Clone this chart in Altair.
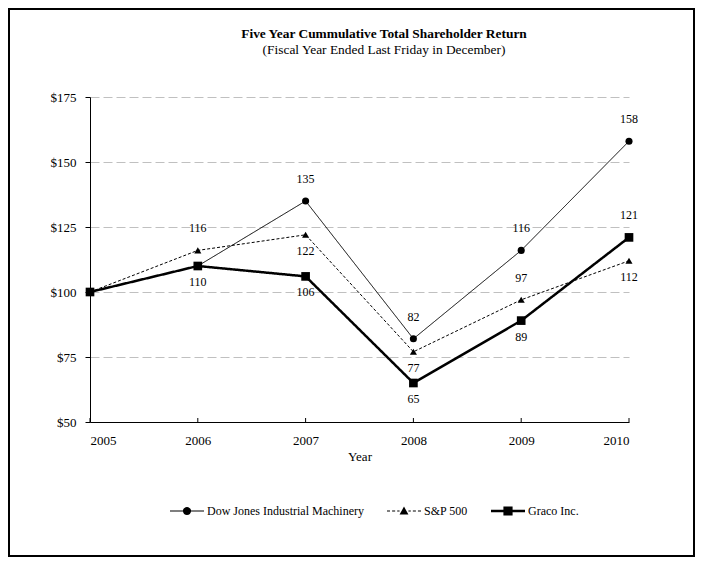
import altair as alt
import pandas as pd

years = [2005, 2006, 2007, 2008, 2009, 2010]
series_names = ["Dow Jones Industrial Machinery", "S&P 500", "Graco Inc."]
dow_jones = [100, 110, 135, 82, 116, 158]
sp500 = [100, 116, 122, 77, 97, 112]
graco = [100, 110, 106, 65, 89, 121]
# where each value label sits relative to its point ("" = no label)
dj_label_pos = ["", "", "above", "above", "above", "above"]
sp_label_pos = ["", "above", "below", "below", "above", "below"]
gr_label_pos = ["", "below", "below", "below", "below", "above"]
y_ticks = [50, 75, 100, 125, 150, 175]
title_text = "Five Year Cummulative Total Shareholder Return"
subtitle_text = "(Fiscal Year Ended Last Friday in December)"

rows = []
for name, vals, pos in zip(series_names, [dow_jones, sp500, graco],
                           [dj_label_pos, sp_label_pos, gr_label_pos]):
    for yr, v, p in zip(years, vals, pos):
        rows.append({"series": name, "year": yr, "value": v, "pos": p})
df = pd.DataFrame(rows)

FONT = "Liberation Serif"
W, H = 539, 325

x_enc = alt.X("year:Q", scale=alt.Scale(domain=[2005, 2010], nice=False, zero=False),
              axis=alt.Axis(values=years, format="d", tickSize=0, labelPadding=12,
                            title="Year", titlePadding=3, grid=False,
                            domainColor="black", labelColor="black",
                            labelFont=FONT, labelFontSize=13, titleFont=FONT,
                            titleFontSize=13, titleFontWeight="normal", titleColor="black"))
y_enc = alt.Y("value:Q", scale=alt.Scale(domain=[50, 175], nice=False, zero=False),
              axis=alt.Axis(values=y_ticks, labelExpr="'$' + datum.value", tickSize=5,
                            tickColor="black", domainColor="black", labelColor="black",
                            labelPadding=9, labelFont=FONT, labelFontSize=13, title=None,
                            grid=True, gridColor="#c0c0c0", gridDash=[9, 4], gridWidth=1))

base = alt.Chart(df)

styles = {
    "Dow Jones Industrial Machinery": dict(width=1, dash=[1, 0], shape="circle", size=50),
    "S&P 500": dict(width=1, dash=[3, 2], shape="triangle-up", size=50),
    "Graco Inc.": dict(width=2.5, dash=[1, 0], shape="square", size=75),
}

layers = []
for name in series_names:
    st = styles[name]
    f = alt.datum.series == name
    layers.append(base.transform_filter(f).mark_line(color="black", strokeWidth=st["width"],
                                                     strokeDash=st["dash"]).encode(x=x_enc, y=y_enc))
for name in series_names:
    st = styles[name]
    f = alt.datum.series == name
    layers.append(base.transform_filter(f).mark_point(shape=st["shape"], size=st["size"], filled=True,
                                                      color="black", opacity=1).encode(x="year:Q", y="value:Q"))

labels_above = base.transform_filter(alt.datum.pos == "above").mark_text(
    font=FONT, fontSize=12, color="black", dy=-22).encode(x="year:Q", y="value:Q", text="value:Q")
labels_below = base.transform_filter(alt.datum.pos == "below").mark_text(
    font=FONT, fontSize=12, color="black", dy=16).encode(x="year:Q", y="value:Q", text="value:Q")
layers += [labels_above, labels_below]

# inward x-axis tick marks
ticks = alt.Chart(pd.DataFrame({"year": years})).mark_rule(color="black", strokeWidth=1).encode(
    x="year:Q", y=alt.value(H - 4), y2=alt.value(H))
layers.append(ticks)


# legend symbols: line + marker drawn as filled unit-space paths
def bar(x0, x1, h):
    return f"M{x0},{-h}H{x1}V{h}H{x0}Z"


circle = "M0.24,0A0.24,0.24 0 1,1 -0.24,0A0.24,0.24 0 1,1 0.24,0Z"
triangle = "M0,-0.26L0.26,0.2L-0.26,0.2Z"
square = "M-0.27,-0.27H0.27V0.27H-0.27Z"
thin, thick = 0.032, 0.075
dash_segs = [(-1, -0.82), (-0.70, -0.52), (-0.40, -0.26), (0.26, 0.40), (0.52, 0.70), (0.82, 1)]
legend_paths = [
    bar(-1, -0.2, thin) + bar(0.2, 1, thin) + circle,
    "".join(bar(a, b, thin) for a, b in dash_segs) + triangle,
    bar(-1, -0.25, thick) + bar(0.25, 1, thick) + square,
]
leg = alt.Legend(title=None, orient="none", legendX=80, legendY=397, direction="horizontal",
                 columnPadding=23, labelOffset=3, symbolSize=1156, labelFont=FONT,
                 labelFontSize=12, labelLimit=400, labelColor="black",
                 symbolFillColor="black", symbolStrokeColor="black", symbolStrokeWidth=0,
                 symbolOpacity=1)
legend_layer = base.transform_filter("datum.value < 0").mark_point(
    filled=True, color="black").encode(
    x="year:Q", y="value:Q",
    shape=alt.Shape("series:N", scale=alt.Scale(domain=series_names, range=legend_paths), legend=leg),
)
layers.append(legend_layer)

# chart title (drawn as text so it sits where the reference has it)
title_layer = alt.Chart(pd.DataFrame({"t": [title_text]})).mark_text(
    font=FONT, fontSize=13.4, fontWeight="bold", color="black", baseline="middle").encode(
    text="t:N", x=alt.value(294), y=alt.value(-63))
sub_layer = alt.Chart(pd.DataFrame({"t": [subtitle_text]})).mark_text(
    font=FONT, fontSize=13.4, color="black", baseline="middle").encode(
    text="t:N", x=alt.value(294), y=alt.value(-47))
layers += [title_layer, sub_layer]

# outer frame
frame = alt.Chart(pd.DataFrame({"a": [0]})).mark_rect(fill=None, stroke="black", strokeWidth=2).encode(
    x=alt.value(-81), x2=alt.value(W + 65), y=alt.value(-88), y2=alt.value(H + 134))
layers.append(frame)

chart = alt.layer(*layers).properties(
    width=W, height=H, background="white",
    autosize=alt.AutoSizeParams(type="none"),
    padding={"left": 82, "top": 89, "right": 66, "bottom": 135},
).configure_view(strokeWidth=0, strokeOpacity=0)

chart.save("out.html", embed_options={"renderer": "svg", "actions": False})
